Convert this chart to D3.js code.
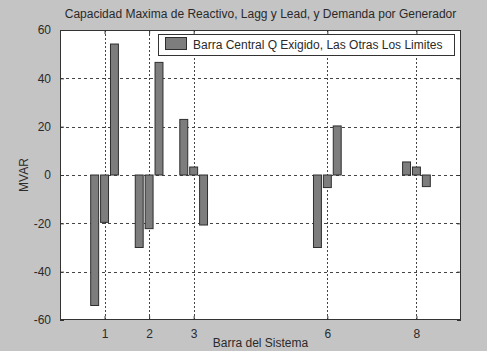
<!DOCTYPE html>
<html>
<head>
<meta charset="utf-8">
<script src="https://cdn.jsdelivr.net/npm/d3@7"></script>
<style>
  html, body { margin: 0; padding: 0; background: #c4c4c4; }
  svg { display: block; font-family: "Liberation Sans", Arial, sans-serif; }
</style>
</head>
<body>
<svg id="chart" width="487" height="351"></svg>
<script>
// Generator buses and their three values (lag limit, demanded Q, lead limit)
const buses = [1, 2, 3, 6, 8];
const lagLimit = [-54, -30, 23, -30, 5.4];
const demandQ = [-19.6, -22.2, 3.3, -5.2, 3.3];
const leadLimit = [54.2, 46.6, -20.7, 20.3, -4.8];
const yTicks = [-60, -40, -20, 0, 20, 40, 60];
const legendLabel = "Barra Central Q Exigido, Las Otras Los Limites";
const titleText = "Capacidad Maxima de Reactivo, Lagg y Lead, y Demanda por Generador";

const series = [lagLimit, demandQ, leadLimit];
const groupOffset = 0.222;   // spacing between bars of a group, in x units
const barW = 0.178;          // bar width, in x units

const svg = d3.select("#chart");
const plotL = 60, plotR = 461, plotT = 30, plotB = 320;

const x = d3.scaleLinear().domain([0, 9]).range([plotL, plotR]);
const y = d3.scaleLinear().domain([-60, 60]).range([plotB, plotT]);

const textColor = "#2a2a2a";
const fontSize = "12px";

// plot background
svg.append("rect").attr("x", plotL).attr("y", plotT)
  .attr("width", plotR - plotL).attr("height", plotB - plotT)
  .attr("fill", "#ffffff");

// grid
const grid = svg.append("g").attr("stroke", "#444").attr("stroke-width", 1);
yTicks.filter(v => v !== -60 && v !== 60).forEach(v => {
  grid.append("line").attr("x1", plotL).attr("x2", plotR)
    .attr("y1", Math.round(y(v)) + 0.5).attr("y2", Math.round(y(v)) + 0.5)
    .attr("stroke-dasharray", "3,3");
});
buses.forEach(b => {
  grid.append("line").attr("y1", plotT).attr("y2", plotB)
    .attr("x1", Math.round(x(b)) + 0.5).attr("x2", Math.round(x(b)) + 0.5)
    .attr("stroke-dasharray", "2,2");
});

// bars
const bars = svg.append("g");
series.forEach((vals, si) => {
  const off = (si - 1) * groupOffset;
  bars.selectAll(null).data(vals.map((v, i) => ({ b: buses[i], v })))
    .enter().append("rect")
    .attr("x", d => x(d.b + off - barW / 2))
    .attr("width", x(barW) - x(0))
    .attr("y", d => y(Math.max(0, d.v)))
    .attr("height", d => Math.abs(y(d.v) - y(0)))
    .attr("fill", "#7d7d7d")
    .attr("stroke", "#2e2e2e")
    .attr("stroke-width", 1);
});

// axes box
svg.append("rect").attr("x", plotL + 0.5).attr("y", plotT + 0.5)
  .attr("width", plotR - plotL - 1).attr("height", plotB - plotT - 1)
  .attr("fill", "none").attr("stroke", "#333").attr("stroke-width", 1);

// axes with inward ticks on all four sides; plain hyphen for negatives
const tickLen = 4;
const plain = d => String(d);
svg.append("g").attr("transform", `translate(${plotL},0)`)
  .call(d3.axisLeft(y).tickValues(yTicks).tickSize(-tickLen).tickPadding(tickLen + 5).tickFormat(plain))
  .call(g => g.select(".domain").remove());
svg.append("g").attr("transform", `translate(${plotR},0)`)
  .call(d3.axisRight(y).tickValues(yTicks).tickSize(-tickLen).tickFormat(""))
  .call(g => g.select(".domain").remove());
svg.append("g").attr("transform", `translate(0,${plotB})`)
  .call(d3.axisBottom(x).tickValues(buses).tickSize(-tickLen).tickPadding(tickLen + 5).tickFormat(plain))
  .call(g => g.select(".domain").remove());
svg.append("g").attr("transform", `translate(0,${plotT})`)
  .call(d3.axisTop(x).tickValues(buses).tickSize(-tickLen).tickFormat(""))
  .call(g => g.select(".domain").remove());

svg.selectAll(".tick line").attr("stroke", "#333");
svg.selectAll(".tick text").attr("fill", textColor)
  .style("font-family", "'Liberation Sans', Arial, sans-serif")
  .style("font-size", fontSize);

// title and axis labels
svg.append("text").attr("x", (plotL + plotR) / 2).attr("y", 18)
  .attr("text-anchor", "middle").attr("fill", textColor)
  .style("font-size", fontSize).text(titleText);
svg.append("text").attr("x", (plotL + plotR) / 2).attr("y", 347)
  .attr("text-anchor", "middle").attr("fill", textColor)
  .style("font-size", fontSize).text("Barra del Sistema");
svg.append("text")
  .attr("transform", `translate(28,${(plotT + plotB) / 2}) rotate(-90)`)
  .attr("text-anchor", "middle").attr("fill", textColor)
  .style("font-size", fontSize).text("MVAR");

// legend
const lg = svg.append("g");
lg.append("rect").attr("x", 158.5).attr("y", 34.5).attr("width", 296).attr("height", 21)
  .attr("fill", "#ffffff").attr("stroke", "#333");
lg.append("rect").attr("x", 165.5).attr("y", 37.5).attr("width", 21).attr("height", 12)
  .attr("fill", "#7d7d7d").attr("stroke", "#2e2e2e");
lg.append("text").attr("x", 193).attr("y", 48.5).attr("fill", textColor)
  .style("font-size", fontSize).text(legendLabel);
</script>
</body>
</html>
